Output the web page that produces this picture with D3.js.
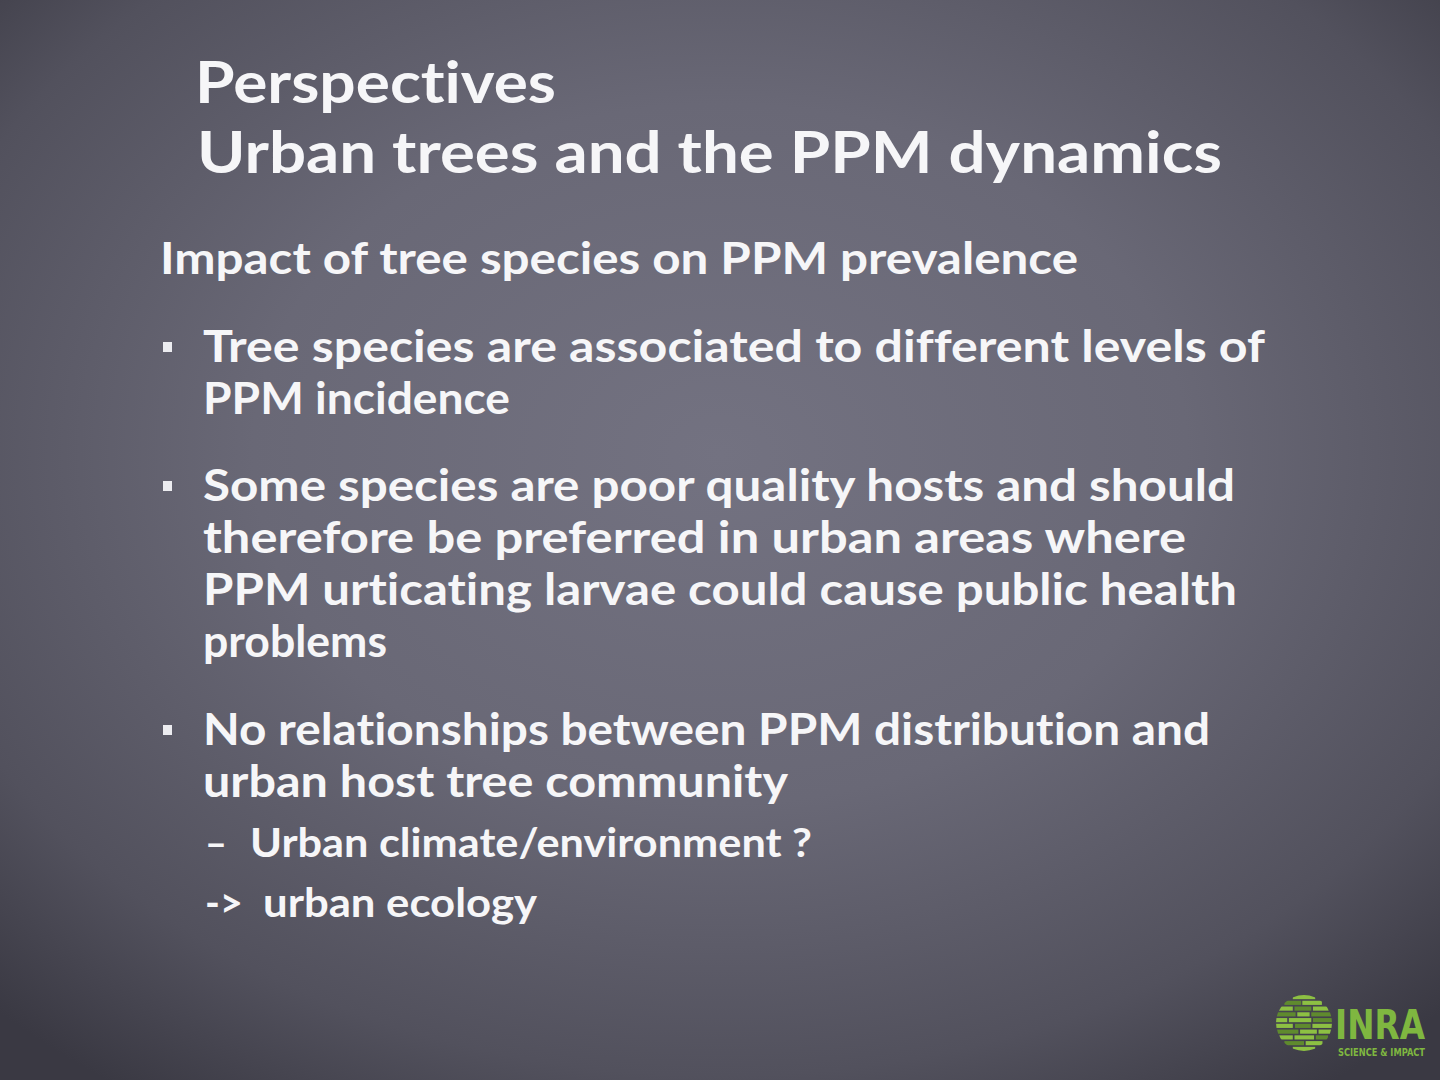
<!DOCTYPE html>
<html>
<head>
<meta charset="utf-8">
<script src="https://cdn.jsdelivr.net/npm/d3@7"></script>
<style>
  html, body { margin: 0; padding: 0; background: #55545f; }
  svg { display: block; }
  .txt { fill: #f6f6f8; font-family: Lato, "Open Sans", sans-serif; font-weight: 700;
         font-variant-ligatures: none; font-feature-settings: "liga" 0, "clig" 0; }
</style>
</head>
<body>
<div id="slide"></div>
<script>
// slide text
var titleLines = ["Perspectives", "Urban trees and the PPM dynamics"]
var heading = "Impact of tree species on PPM prevalence"
var bullets = [
  ["Tree species are associated to different levels of", "PPM incidence"],
  ["Some species are poor quality hosts and should", "therefore be preferred in urban areas where",
   "PPM urticating larvae could cause public health", "problems"],
  ["No relationships between PPM distribution and", "urban host tree community"]
]
var subItems = [["\u2013", "Urban climate/environment ?"], ["->", "urban ecology"]]
var logoWord = "INRA"
var logoTag = "SCIENCE & IMPACT"

// measured line widths in the slide (px)
var titleWidths = [361, 1025]
var headingWidth = 918
var bulletWidths = [[1062, 307], [1032, 983, 1034, 184], [1007, 585]]
var subWidths = [[22, 562], [38, 274]]

// logo stripes: each row is a list of [start, length, tone] in unit-circle widths
var stripeRows = [
  [[0.30, 0.40, 1]],
  [[0.15, 0.30, 0], [0.47, 0.35, 1]],
  [[0.05, 0.25, 1], [0.33, 0.30, 0], [0.66, 0.28, 1]],
  [[0.00, 0.35, 0], [0.38, 0.22, 1], [0.63, 0.37, 0]],
  [[0.00, 0.20, 1], [0.23, 0.40, 1], [0.66, 0.34, 0]],
  [[0.00, 0.30, 1], [0.34, 0.28, 0], [0.65, 0.35, 1]],
  [[0.02, 0.38, 0], [0.43, 0.30, 1], [0.76, 0.24, 1]],
  [[0.06, 0.24, 1], [0.33, 0.35, 1], [0.71, 0.22, 0]],
  [[0.15, 0.35, 0], [0.53, 0.30, 1]],
  [[0.30, 0.40, 1]]
]

var W = 1440, H = 1080
var svg = d3.select('#slide').append('svg')
    .attr('width', W)
    .attr('height', H)

var defs = svg.append('defs')
var bg = defs.append('radialGradient')
    .attr('id', 'bg')
    .attr('cx', 0.5).attr('cy', 0.42).attr('r', 0.72)
bg.append('stop').attr('offset', '0%').attr('stop-color', '#737281')
bg.append('stop').attr('offset', '45%').attr('stop-color', '#696876')
bg.append('stop').attr('offset', '80%').attr('stop-color', '#52515d')
bg.append('stop').attr('offset', '100%').attr('stop-color', '#3a3943')

svg.append('rect')
    .attr('width', W)
    .attr('height', H)
    .attr('fill', 'url(#bg)')

// vertical scale for the text rows
var row = d3.scaleLinear().domain([0, 1]).range([0, 52])

function fitText(sel, widths) {
  sel.attr('textLength', function(d, i) { return widths[i] })
     .attr('lengthAdjust', 'spacingAndGlyphs')
}

// title
svg.append('g').selectAll('text')
    .data(titleLines)
    .enter()
    .append('text')
    .attr('class', 'txt')
    .attr('x', function(d, i) { return i ? 197 : 195 })
    .attr('y', function(d, i) { return 103 + i * 70 })
    .style('font-size', '58px')
    .text(function(d) { return d })
    .call(fitText, titleWidths)

svg.append('text')
    .attr('class', 'txt')
    .attr('x', 160)
    .attr('y', 274)
    .style('font-size', '44px')
    .text(heading)
    .attr('textLength', headingWidth)
    .attr('lengthAdjust', 'spacingAndGlyphs')

// bullets
var bulletTop = [362, 501, 745]
var bulletG = svg.append('g').selectAll('g')
    .data(bullets)
    .enter()
    .append('g')
    .attr('transform', function(d, i) { return 'translate(0,' + bulletTop[i] + ')' })

bulletG.append('rect')
    .attr('x', 163)
    .attr('y', -20)
    .attr('width', 9)
    .attr('height', 10)
    .attr('fill', '#ececf0')

bulletG.each(function(lines, bi) {
  d3.select(this).selectAll('text')
    .data(lines)
    .enter()
    .append('text')
    .attr('class', 'txt')
    .attr('x', 203)
    .attr('y', function(d, i) { return row(i) })
    .style('font-size', '43px')
    .text(function(d) { return d })
    .call(fitText, bulletWidths[bi])
})

// sub items: marker + text
var subG = svg.append('g').selectAll('g')
    .data(subItems)
    .enter()
    .append('g')
    .attr('transform', function(d, i) { return 'translate(0,' + (857 + i * 60) + ')' })

subG.append('text')
    .attr('class', 'txt')
    .attr('x', 205)
    .style('font-size', '40px')
    .text(function(d) { return d[0] })
    .attr('textLength', function(d, i) { return subWidths[i][0] })
    .attr('lengthAdjust', 'spacingAndGlyphs')

subG.append('text')
    .attr('class', 'txt')
    .attr('x', function(d, i) { return i ? 263 : 250 })
    .style('font-size', '40px')
    .text(function(d) { return d[1] })
    .attr('textLength', function(d, i) { return subWidths[i][1] })
    .attr('lengthAdjust', 'spacingAndGlyphs')

// INRA logo
var logo = svg.append('g').attr('transform', 'translate(1276,995)')
var R = 28
defs.append('clipPath').attr('id', 'globe')
    .append('circle').attr('cx', R).attr('cy', R).attr('r', R)

var ys = d3.scaleBand().domain(d3.range(stripeRows.length)).range([0, 2 * R]).paddingInner(0.28)
var xs = d3.scaleLinear().domain([0, 1]).range([0, 2 * R])

logo.append('g')
    .attr('clip-path', 'url(#globe)')
    .selectAll('g')
    .data(stripeRows)
    .enter()
    .append('g')
    .attr('transform', function(d, i) { return 'translate(0,' + ys(i) + ')' })
    .selectAll('rect')
    .data(function(d) { return d })
    .enter()
    .append('rect')
    .attr('x', function(d) { return xs(d[0]) })
    .attr('width', function(d) { return xs(d[1]) })
    .attr('height', ys.bandwidth())
    .attr('fill', function(d) { return d[2] ? '#8dc043' : '#5f8a2e' })

logo.append('text')
    .attr('x', 59)
    .attr('y', 44)
    .style('font-family', '"Liberation Sans Narrow", "DejaVu Sans Condensed", sans-serif')
    .style('font-size', '40px')
    .style('font-weight', 700)
    .attr('fill', '#7fb740')
    .attr('textLength', 90)
    .attr('lengthAdjust', 'spacingAndGlyphs')
    .text(logoWord)

logo.append('text')
    .attr('x', 62)
    .attr('y', 61)
    .style('font-family', '"Liberation Sans Narrow", "DejaVu Sans Condensed", sans-serif')
    .style('font-size', '10px')
    .style('font-weight', 700)
    .attr('fill', '#7fb740')
    .attr('textLength', 87)
    .attr('lengthAdjust', 'spacingAndGlyphs')
    .text(logoTag)
</script>
</body>
</html>
